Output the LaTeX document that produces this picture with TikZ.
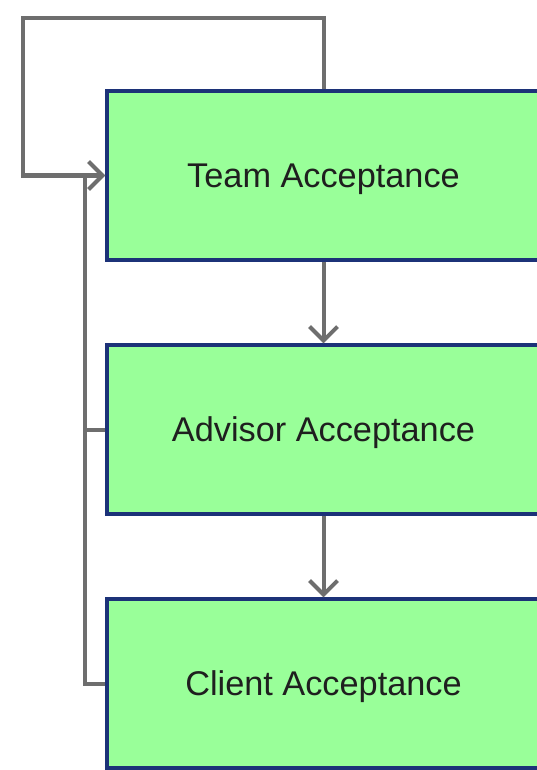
\documentclass[tikz,border=0pt]{standalone}
\usepackage{fontspec}
\setmainfont{Liberation Sans}
\usetikzlibrary{arrows.meta}
\definecolor{boxfill}{RGB}{153,255,153}
\definecolor{boxedge}{RGB}{28,50,120}
\definecolor{linegray}{RGB}{110,110,110}
\begin{document}
\begin{tikzpicture}[x=1pt,y=-1pt,
  stagebox/.style={draw=boxedge, fill=boxfill, line width=3.2pt, rectangle,
    minimum width=433pt, minimum height=169pt, inner sep=0pt,
    text height=24.6pt, text depth=0pt,
    font=\fontsize{34.3}{40}\selectfont, text=black!88},
  conn/.style={draw=linegray, line width=4pt},
  tip/.style={-{Straight Barb[length=14pt,width=28pt,line width=4pt]}}]
\useasboundingbox (0,0) rectangle (537,770);
\clip (0,0) rectangle (537,770);
\fill[white] (0,0) rectangle (537,770);
\node[stagebox] (team) at (323.5,175.5) {Team Acceptance};
\node[stagebox] (advisor) at (323.5,429.5) {Advisor Acceptance};
\node[stagebox] (client) at (323.5,683.5) {Client Acceptance};
\coordinate (topright) at (322,18);
\coordinate (topleft) at (23,18);
\coordinate (bus) at (85,175.5);
\draw[conn, tip] (team.north) -- (team.north |- topright) -- (topleft) |- (team.west);
\draw[conn] (client.west) -| (bus);
\draw[conn] (advisor.west) -- (advisor.west -| bus);
\draw[conn, tip] (team.south) -- (advisor.north);
\draw[conn, tip] (advisor.south) -- (client.north);
\end{tikzpicture}
\end{document}
